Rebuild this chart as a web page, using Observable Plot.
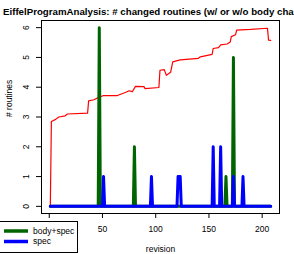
<!DOCTYPE html>
<html><head><meta charset="utf-8">
<script src="https://cdn.jsdelivr.net/npm/d3@7"></script>
<script src="https://cdn.jsdelivr.net/npm/@observablehq/plot@0.6"></script>
<style>
html,body{margin:0;padding:0;background:#fff;}
#wrap{position:relative;width:294px;height:254px;overflow:hidden;font-family:"Liberation Sans",Arial,sans-serif;}
#title{position:absolute;left:3px;top:6.5px;font-size:9.7px;font-weight:bold;line-height:1;white-space:nowrap;color:#000;}
#chart{position:absolute;left:0;top:0;}
#legend{position:absolute;left:-2px;top:221px;width:78px;height:30px;border:1px solid #000;background:#fff;}
</style></head><body>
<div id="wrap"><div id="chart"></div><div id="title"></div><div id="legend"></div></div>
<script>
const title = "EiffelProgramAnalysis: # changed routines (w/ or w/o body change)";
const xLabel = "revision";
const yLabel = "# routines";
const xTicks = [0, 50, 100, 150, 200];
const yTicks = [0, 1, 2, 3, 4, 5, 6];

// red line (total routines, scaled)
const totalRev = [1, 2, 6, 9, 15, 17, 36, 37, 42, 46, 51, 64, 72, 75, 78, 81, 89, 90, 103, 104, 108, 110, 114, 116, 123, 140, 142, 153, 154, 159, 161, 167, 170, 171, 175, 176, 189, 205, 206, 208];
const totalVal = [0, 2.85, 2.92, 3.0, 3.04, 3.1, 3.13, 3.54, 3.58, 3.65, 3.72, 3.72, 3.83, 3.88, 3.85, 4.03, 4.02, 3.95, 3.99, 4.57, 4.59, 4.4, 4.5, 4.85, 4.92, 4.97, 5.02, 5.1, 5.3, 5.33, 5.42, 5.45, 5.52, 5.7, 5.76, 5.92, 5.94, 5.98, 5.58, 5.57];

// body+spec
const bodyRev = [1, 46, 47, 48, 79, 80, 81, 165, 166, 167, 172, 173, 174, 208];
const bodyVal = [0, 0, 6, 0, 0, 2, 0, 0, 1, 0, 0, 5, 0, 0];

// spec
const specRev = [1, 50, 51, 52, 95, 96, 97, 120, 121, 123, 124, 153, 154, 155, 160, 161, 162, 172, 173, 174, 181, 182, 183, 208];
const specVal = [0, 0, 1, 0, 0, 1, 0, 0, 1, 1, 0, 0, 2, 0, 0, 2, 0, 0, 1, 0, 0, 1, 0, 0];

const seriesNames = ["body+spec", "spec"];
const seriesColors = ["#006400", "#0000ff"];
const totalColor = "#ff0000";

const zip = (xs, ys) => xs.map((x, i) => ({x, y: ys[i]}));
const total = zip(totalRev, totalVal);
const body = zip(bodyRev, bodyVal);
const spec = zip(specRev, specVal);

const [x0, x1] = d3.extent([...totalRev, ...bodyRev, ...specRev]);
const padX = (x1 - x0) * 0.04;
const yMax = d3.max([...totalVal, ...bodyVal, ...specVal]);
const padY = yMax * 0.04;

const font = '"Liberation Sans", Arial, sans-serif';

const chart = Plot.plot({
  width: 294, height: 254,
  marginTop: 20, marginBottom: 41, marginLeft: 41, marginRight: 15,
  style: {fontFamily: font, fontSize: "8.5px", color: "#000", background: "#fff", overflow: "visible"},
  x: {domain: [x0 - padX, x1 + padX]},
  y: {domain: [0 - padY, yMax + padY]},
  marks: [
    Plot.line(total, {x: "x", y: "y", stroke: totalColor, strokeWidth: 1.2}),
    Plot.line(body, {x: "x", y: "y", stroke: seriesColors[0], strokeWidth: 3}),
    Plot.line(spec, {x: "x", y: "y", stroke: seriesColors[1], strokeWidth: 3}),
    Plot.frame({stroke: "#000"}),
    Plot.axisX({ticks: xTicks, tickSize: 5, tickPadding: 7.5, tickFormat: d => d === 0 ? "" : String(d), label: null}),
    Plot.axisY({ticks: yTicks, tickSize: 5, tickFormat: () => "", label: null}),
    Plot.text(yTicks, {y: d => d, frameAnchor: "left", text: d => String(d), rotate: -90, textAnchor: "middle", lineAnchor: "bottom", dx: -13}),
    Plot.text([xLabel], {frameAnchor: "bottom", text: d => d, dy: 38, lineAnchor: "bottom"}),
    Plot.text([yLabel], {frameAnchor: "left", text: d => d, dx: -30, rotate: -90, lineAnchor: "bottom"})
  ]
});
document.getElementById("chart").appendChild(chart);
document.getElementById("title").textContent = title;

// legend
const lg = d3.select("#legend").append("svg").attr("width", 78).attr("height", 30)
  .style("display", "block").style("font-family", font).style("font-size", "8.5px");
seriesNames.forEach((name, i) => {
  const cy = 9 + i * 10.5;
  lg.append("line").attr("x1", 5).attr("x2", 29).attr("y1", cy).attr("y2", cy)
    .attr("stroke", seriesColors[i]).attr("stroke-width", 3.5);
  lg.append("text").attr("x", 34).attr("y", cy).attr("dy", "0.32em").attr("fill", "#000").text(name);
});
</script>
</body></html>
